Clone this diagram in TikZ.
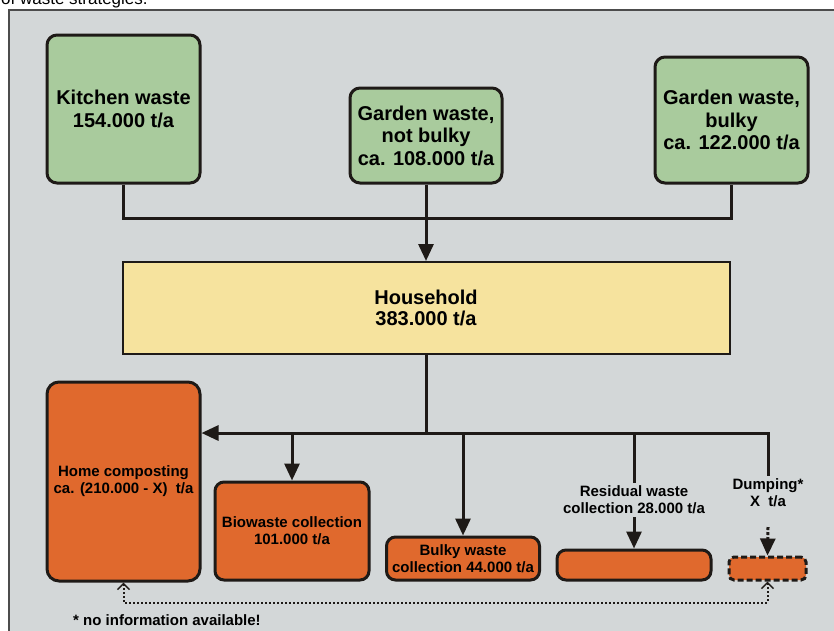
\documentclass[tikz,border=0pt]{standalone}
\usepackage{fontspec}
\setmainfont{Liberation Sans}
\usepackage{xcolor}
\usetikzlibrary{arrows.meta,positioning}
\definecolor{panelgray}{RGB}{211,215,216}
\definecolor{sourcegreen}{RGB}{169,203,157}
\definecolor{houseyellow}{RGB}{246,227,158}
\definecolor{pathorange}{RGB}{224,105,45}
\definecolor{inkdark}{RGB}{30,26,23}

\begin{document}
\begin{tikzpicture}[x=1pt, y=-1pt,
  bigtext/.style={font=\fontsize{20}{22.5}\selectfont\bfseries},
  smalltext/.style={font=\fontsize{15}{17}\selectfont\bfseries},
  srcbox/.style={draw=inkdark, line width=3pt, rounded corners=10pt, fill=sourcegreen, align=center, bigtext, inner sep=0pt},
  outbox/.style={draw=inkdark, line width=3pt, rounded corners=9pt, fill=pathorange, align=center, smalltext, inner sep=0pt},
  link/.style={draw=inkdark, line width=3pt},
  flow/.style={link, -{Triangle[length=17pt,width=15pt]}},
  back/.style={draw=inkdark, line width=2pt, dotted, {Straight Barb[length=6pt,width=12pt,line width=1.5pt]}-{Straight Barb[length=6pt,width=12pt,line width=1.5pt]}}]
\clip (0,0) rectangle (834,630);
\draw[draw=black!70, line width=1.5pt, fill=panelgray] (9,10) rectangle (850,650);
\node[anchor=base west, inner sep=0pt, font=\fontsize{17}{20}\selectfont] (caption) at (1,4) {of waste strategies.};
% sources
\node[srcbox, minimum width=153, minimum height=148] (kitchen) at (123.5,109) {Kitchen waste\\154.000 t/a};
\node[srcbox, minimum width=152, minimum height=95] (gardennb) at (426,135.5) {Garden waste,\\not bulky\\ca. 108.000 t/a};
\node[srcbox, minimum width=153, minimum height=126] (gardenb) at (731.5,120) {Garden waste,\\bulky\\ca. 122.000 t/a};
\node[draw=inkdark, line width=2pt, fill=houseyellow, align=center, inner sep=0pt,
  font=\fontsize{20}{21}\selectfont\bfseries, minimum width=607, minimum height=92] (household) at (426,308) {Household\\383.000 t/a};
% destinations
\node[outbox, minimum width=153, minimum height=199, rounded corners=12pt] (homecomp) at (123.5,481.5) {Home composting\\ca. (210.000 - X)~ t/a};
\node[outbox, minimum width=154, minimum height=98] (biowaste) at (292,531) {Biowaste collection\\101.000 t/a};
\node[outbox, minimum width=153, minimum height=43] (bulky) at (463,558.5) {Bulky waste\\collection 44.000 t/a};
\node[outbox, minimum width=154, minimum height=30] (residual) at (634,565) {};
\node[outbox, minimum width=77, minimum height=23, dash pattern=on 6pt off 3pt, rounded corners=5pt] (dumping) at (767.5,568.5) {};
\node[smalltext, align=center, inner sep=3pt] (reslabel) at (634,500) {Residual waste\\collection 28.000 t/a};
\node[smalltext, align=center, inner sep=3pt] (dumplabel) at (768,493) {Dumping*\\X~ t/a};
\node[smalltext, anchor=west, inner sep=0pt] (note) at (73,620) {* no information available!};
% connectors
\coordinate (merge) at (426,218);
\coordinate (split) at (426,433);
\coordinate (dumpin) at (768,527);
\draw[link] (kitchen.south) |- (merge) -| (gardenb.south);
\draw[flow] (gardennb.south) -- (gardennb.south |- household.north);
\draw[link] (household.south) -- (split);
\draw[flow] (dumplabel.north) |- (homecomp.east |- split);
\draw[flow] (biowaste.north |- split) -- (biowaste.north);
\draw[flow] (bulky.north |- split) -- (bulky.north);
\draw[link] (reslabel.north |- split) -- (reslabel.north);
\draw[flow] (reslabel.south) -- (residual.north);
\draw[flow, dotted] (dumpin) -- (dumping.north);
\draw[back] (homecomp.south) -- ++(0,20) -| (dumping.south);
\end{tikzpicture}
\end{document}
